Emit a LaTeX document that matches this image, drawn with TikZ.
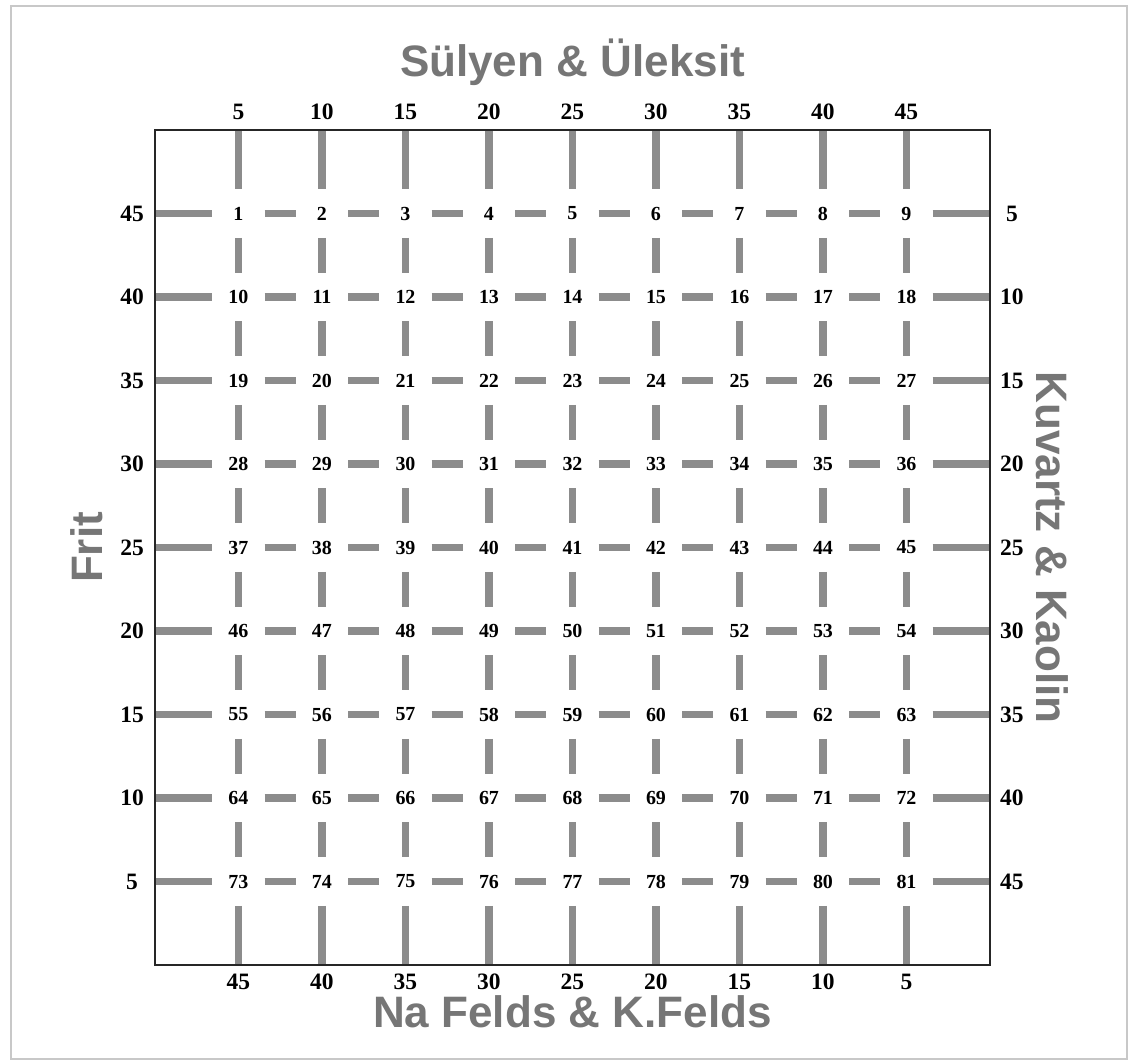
\documentclass[tikz,border=0pt]{standalone}
\usepackage{fontspec}
\setmainfont{Liberation Serif}
\newfontfamily\headfont{Liberation Sans}
\usetikzlibrary{shapes.geometric}
\definecolor{BarGray}{HTML}{8C8C8C}
\definecolor{HeadGray}{HTML}{767676}
\definecolor{FrameGray}{HTML}{C8C8C8}

\begin{document}
\begin{tikzpicture}[x=2.5cm,y=2.5cm,
    bar/.style={BarGray,line width=6.5pt},
    cell/.style={diamond,inner sep=0pt,minimum width=1.55cm,minimum height=1.45cm,
      font=\fontsize{17}{17}\selectfont\bfseries},
    tick/.style={font=\fontsize{20}{20}\selectfont\bfseries},
    head/.style={HeadGray,font=\fontsize{37.5}{40}\selectfont\headfont\bfseries}]
    \useasboundingbox (-1.856,-1.162) rectangle (11.689,11.557);
    \draw[FrameGray,line width=2pt] (-1.725,-1.126) rectangle (11.641,11.485);
    \foreach \r in {1,...,9} {
      \foreach \c in {1,...,9} {
        \pgfmathtruncatemacro\k{(\r-1)*9+\c}
        \node[cell] (p-\c-\r) at (\c,10-\r) {\k};
      }
      \coordinate (p-0-\r) at (0,10-\r);
      \coordinate (p-10-\r) at (10,10-\r);
      \coordinate (p-\r-0) at (\r,10);
      \coordinate (p-\r-10) at (\r,0);
    }
    \foreach \i in {1,...,9} {
      \foreach \j [evaluate=\j as \jn using int(\j+1)] in {0,...,9} {
        \draw[bar] (p-\j-\i) -- (p-\jn-\i);
        \draw[bar] (p-\i-\j) -- (p-\i-\jn);
      }
    }
    \draw[black!85,line width=2.4pt] (0,0) rectangle (10,10);
    \foreach \k [evaluate=\k as \v using int(5*\k),
                 evaluate=\k as \w using int(50-5*\k)] in {1,...,9} {
      \node[tick] (top\k) at (\k,10.216) {\v};
      \node[tick] (bottom\k) at (\k,-0.204) {\w};
      \node[tick] (left\k) at (-0.275,10-\k) {\w};
      \node[tick] (right\k) at (10.263,10-\k) {\v};
    }
    \node[head] (north) at (5,10.81) {Sülyen \& Üleksit};
    \node[head] (south) at (5,-0.563) {Na Felds \& K.Felds};
    \node[head,rotate=90] (west) at (-0.814,5) {Frit};
    \node[head,rotate=-90] (east) at (10.743,5) {Kuvartz \& Kaolin};
  \end{tikzpicture}
\end{document}
